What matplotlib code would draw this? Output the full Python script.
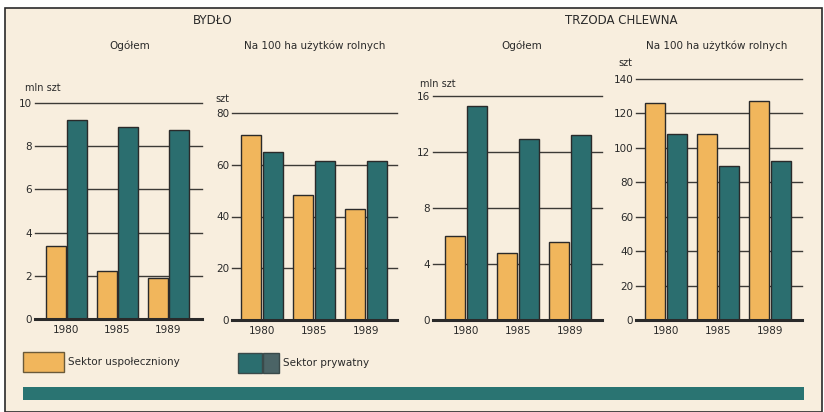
import matplotlib
matplotlib.use("Agg")
import matplotlib.pyplot as plt
from matplotlib.patches import Rectangle

plt.rcParams['font.family'] = ['Liberation Sans Narrow', 'DejaVu Sans']

years = ['1980', '1985', '1989']

# BYDŁO
bydlo_ogolem_uspol = [3.4, 2.2, 1.9]
bydlo_ogolem_pryw = [9.2, 8.9, 8.75]
bydlo_100ha_uspol = [71.5, 48.5, 43]
bydlo_100ha_pryw = [65, 61.5, 61.5]

# TRZODA CHLEWNA
trzoda_ogolem_uspol = [6.0, 4.8, 5.6]
trzoda_ogolem_pryw = [15.3, 12.9, 13.2]
trzoda_100ha_uspol = [126, 108, 127]
trzoda_100ha_pryw = [108, 89.5, 92.5]

panels = [
    (bydlo_ogolem_uspol, bydlo_ogolem_pryw, [0, 2, 4, 6, 8, 10], 'mln szt'),
    (bydlo_100ha_uspol, bydlo_100ha_pryw, [0, 20, 40, 60, 80], 'szt'),
    (trzoda_ogolem_uspol, trzoda_ogolem_pryw, [0, 4, 8, 12, 16], 'mln szt'),
    (trzoda_100ha_uspol, trzoda_100ha_pryw, [0, 20, 40, 60, 80, 100, 120, 140], 'szt'),
]

ORANGE = '#f1b65c'
TEAL = '#2b6e6f'
BG = '#f8eede'
INK = '#2a2a2a'

W, H = 824, 412
fig = plt.figure(figsize=(W / 100, H / 100), dpi=100)
fig.patch.set_facecolor('white')


def fx(x):
    return x / W


def fy(y):
    return 1 - y / H


# page background with frame
fig.patches.append(Rectangle((fx(5), fy(412)), fx(822) - fx(5), fy(8) - fy(412),
                             transform=fig.transFigure, facecolor=BG,
                             edgecolor=INK, lw=1.2, zorder=-10))

# axes boxes in pixels: left, right, top (top gridline), bottom (zero line), first group centre, spacing
boxes = [
    (35, 202, 103, 319, 66.5, 51),
    (232, 397, 113, 320, 262, 52),
    (433, 602, 96, 320, 466, 52),
    (636, 802, 79, 320, 666, 52),
]
unit_pos = [(25, 88), (215, 99), (420, 84), (618, 63)]

bw = 0.39
off = 0.21
for (uspol, pryw, ticks, unit), (l, r, t, b, c0, sp), (ux, uy) in zip(panels, boxes, unit_pos):
    ax = fig.add_axes([fx(l), fy(b), fx(r) - fx(l), fy(t) - fy(b)])
    ax.set_facecolor('none')
    x = range(len(years))
    ax.bar([i - off for i in x], uspol, width=bw, color=ORANGE,
           edgecolor=INK, lw=1.0, zorder=3)
    ax.bar([i + off for i in x], pryw, width=bw, color=TEAL,
           edgecolor=INK, lw=1.0, zorder=3)
    for tk in ticks[1:]:
        ax.axhline(tk, color='#3c3a36', lw=1.0, zorder=1, clip_on=False)
    ax.axhline(0, color=INK, lw=2.2, zorder=4, clip_on=False)
    ax.set_xlim((l - c0) / sp, (r - c0) / sp)
    ax.set_ylim(0, ticks[-1])
    ax.set_yticks(ticks)
    ax.set_yticklabels([str(v) for v in ticks], fontsize=7.5, color=INK)
    ax.set_xticks(list(x))
    ax.set_xticklabels(years, fontsize=7.5, color=INK)
    ax.tick_params(length=0, axis='y', pad=2)
    ax.tick_params(length=0, axis='x', pad=4)
    for s in ax.spines.values():
        s.set_visible(False)
    fig.text(fx(ux), fy(uy), unit, fontsize=7, color=INK, ha='left', va='center')

# titles
fig.text(fx(213), fy(20), 'BYDŁO', fontsize=8.5, ha='center', va='center', color=INK)
fig.text(fx(621), fy(20), 'TRZODA CHLEWNA', fontsize=8.5, ha='center', va='center', color=INK)
subs = [(130, 'Ogółem'), (315, 'Na 100 ha użytków rolnych'),
        (522, 'Ogółem'), (717, 'Na 100 ha użytków rolnych')]
for sx, s in subs:
    fig.text(fx(sx), fy(46), s, fontsize=7.5, ha='center', va='center', color=INK)

# legend
fig.patches.append(Rectangle((fx(23), fy(372)), fx(64) - fx(23), fy(352) - fy(372),
                             transform=fig.transFigure, facecolor=ORANGE,
                             edgecolor='#6a5a3a', lw=1))
fig.text(fx(68), fy(362), 'Sektor uspołeczniony', fontsize=7.5, ha='left', va='center', color=INK)
fig.patches.append(Rectangle((fx(238), fy(373)), fx(262) - fx(238), fy(353) - fy(373),
                             transform=fig.transFigure, facecolor=TEAL,
                             edgecolor='#3a4a4a', lw=1))
fig.patches.append(Rectangle((fx(263), fy(373)), fx(279) - fx(263), fy(353) - fy(373),
                             transform=fig.transFigure, facecolor='#4b6466',
                             edgecolor='#3a4a4a', lw=1))
fig.text(fx(283), fy(363), 'Sektor prywatny', fontsize=7.5, ha='left', va='center', color=INK)

# bottom band
fig.patches.append(Rectangle((fx(23), fy(400)), fx(804) - fx(23), fy(387) - fy(400),
                             transform=fig.transFigure, facecolor='#2a7472', lw=0))

fig.savefig('out.png', dpi=100, facecolor=fig.get_facecolor())
